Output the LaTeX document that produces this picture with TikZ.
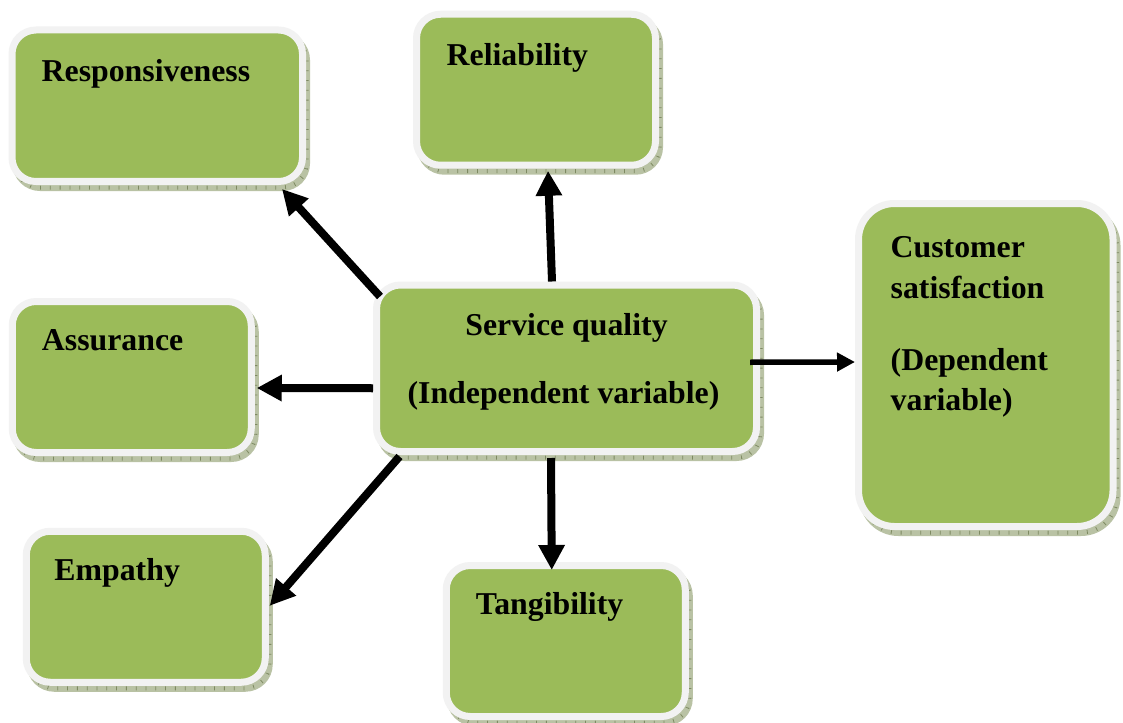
\documentclass[tikz,border=0pt]{standalone}
\usepackage{fontspec}
\setmainfont{Liberation Serif}
\usetikzlibrary{arrows.meta,calc}

\definecolor{boxgreen}{HTML}{9BBB59}
\definecolor{boxrim}{HTML}{F2F2F2}
\definecolor{shadowfill}{HTML}{B9C2A4}
\definecolor{shadowtick}{HTML}{7E8A62}

\tikzset{
  % rounded green panel with a light rim and a hatched drop shadow
  box/.style={rectangle, rounded corners=#1, fill=boxgreen, draw=boxrim,
    line width=7pt, inner sep=0pt,
    preaction={draw=shadowfill, fill=shadowfill, line width=7pt,
      transform canvas={shift={(4pt,-6pt)}}},
    preaction={draw=shadowtick, line width=4pt, dash pattern=on 0.8pt off 9pt,
      transform canvas={shift={(4pt,-6pt)}}}},
  box/.default=24pt,
  smallbox/.style={box, minimum width=239pt, minimum height=151pt},
  lbl/.style={font=\fontsize{31.8pt}{41pt}\selectfont\bfseries,
    inner sep=0pt, anchor=base west},
  link/.style={line width=8pt, -{Triangle[length=25pt,width=25pt]}},
  thinlink/.style={line width=5.5pt, -{Triangle[length=18pt,width=18pt]}},
}

\begin{document}
\begin{tikzpicture}[x=1pt,y=-1pt]
  \fill[white] (0,0) rectangle (1123,722);
  \useasboundingbox (0,0) rectangle (1123,722);

  % panels
  \node[box, minimum width=290.5pt, minimum height=151.5pt] (resp) at (157.25,105.75) {};
  \node[smallbox] (rel)   at (536,89.75)   {};
  \node[smallbox] (assur) at (131.75,377)  {};
  \node[smallbox] (emp)   at (145.75,606.75) {};
  \node[smallbox] (tang)  at (565.75,641)  {};
  \node[box, minimum width=380pt, minimum height=166.5pt] (sq) at (566.5,368.25) {};
  \node[box=36pt, minimum width=254.5pt, minimum height=323pt] (cust) at (985.75,365) {};

  % panel titles
  \node[lbl] (resp-t)  at ($(resp.north west)+(33,55)$)   {Responsiveness};
  \node[lbl] (rel-t)   at ($(rel.north west)+(33.5,54.5)$) {Reliability};
  \node[lbl] (assur-t) at ($(assur.north west)+(33,52.5)$) {Assurance};
  \node[lbl] (emp-t)   at ($(emp.north west)+(31.5,52.5)$) {Empathy};
  \node[lbl] (tang-t)  at ($(tang.north west)+(33,52.5)$)  {Tangibility};

  \node[lbl, anchor=base] (sq-t1) at ($(sq.north)+(0,54)$)  {Service quality};
  \node[lbl, anchor=base] (sq-t2) at ($(sq.north)+(-3,122)$) {(Independent variable)};

  \node[lbl] (cust-t1) at ($(cust.north west)+(35.5,57.5)$)  {Customer};
  \node[lbl] (cust-t2) at ($(cust.north west)+(35.5,98.5)$)  {satisfaction};
  \node[lbl] (cust-t3) at ($(cust.north west)+(35.5,170.5)$) {(Dependent};
  \node[lbl] (cust-t4) at ($(cust.north west)+(35.5,210.5)$) {variable)};

  % arrows from the central panel
  \draw[link] ($(sq.north west)+(7,15)$) -- ($(resp.south east)+(-24,4)$);
  \draw[link] ($(sq.north)+(-14.5,0)$) -- ($(rel.south)+(12,2)$);
  \draw[link] ($(sq.west)+(0,20)$) -- ($(assur.east)+(2,11)$);
  \draw[link] ($(sq.south west)+(26.5,1.5)$) -- ($(emp.east)+(1,-1)$);
  \draw[link] ($(sq.south)+(-15.5,3)$) -- ($(tang.north)+(-14,8)$);
  \draw[thinlink] ($(sq.east)+(-10,-6)$) -- ($(cust.west)+(0,-3)$);
\end{tikzpicture}
\end{document}
